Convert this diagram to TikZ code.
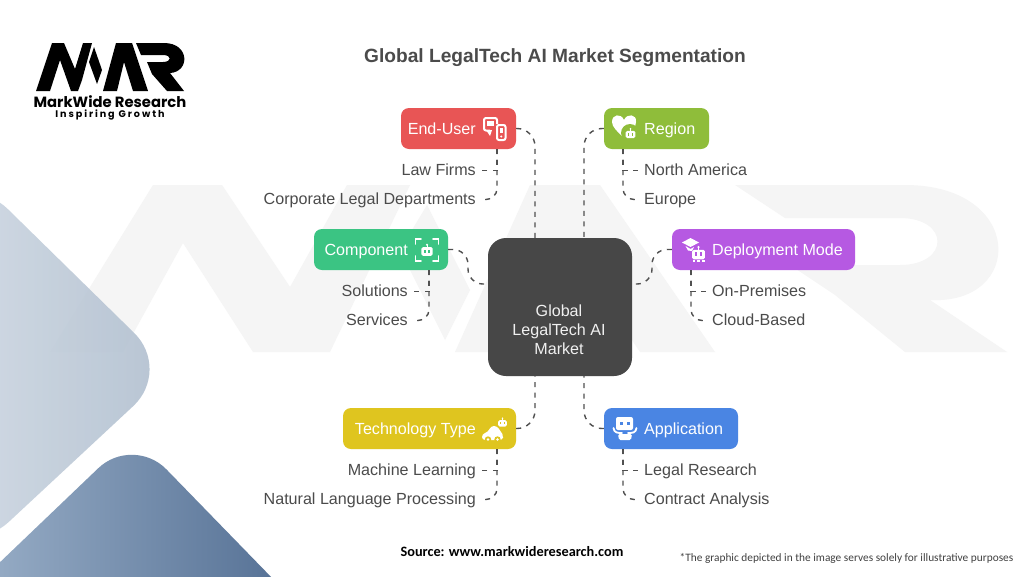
\documentclass[tikz,border=0pt]{standalone}
\usepackage{fontspec}
\setmainfont{Liberation Sans}
\newfontfamily\popfont{Poppins}
\newfontfamily\calfont{Carlito}
\usetikzlibrary{calc}
\definecolor{tx}{HTML}{4B4B4B}
\definecolor{cdark}{HTML}{474747}
\definecolor{cred}{HTML}{E85555}
\definecolor{cgreen}{HTML}{8FBD3A}
\definecolor{cmint}{HTML}{3BC483}
\definecolor{cpurple}{HTML}{B659E2}
\definecolor{cyellow}{HTML}{DFC51F}
\definecolor{cblue}{HTML}{4A85E3}
\definecolor{wm}{HTML}{F5F5F5}
\definecolor{conncol}{HTML}{505050}
\definecolor{shapeA}{HTML}{E6ECF2}
\definecolor{shapeB}{HTML}{ADBCCD}
\definecolor{shapeC}{HTML}{9EB3CB}
\definecolor{shapeD}{HTML}{506C91}
\tikzset{
  catbox/.style={draw=none,rounded corners=8pt,minimum height=41pt,inner sep=0pt},
  cattext/.style={font=\fontsize{16.1}{18}\selectfont,text=white,inner sep=0pt},
  sublabel/.style={font=\fontsize{16.1}{18}\selectfont,text=tx,inner sep=0pt},
  conn/.style={draw=conncol,line width=1.4pt,dash pattern=on 5pt off 5.5pt},
  branch/.style={conn,rounded corners=11pt},
  main/.style={conn,rounded corners=18pt},
}
\newcommand\mwrlogo{%
  (36,91)--(52,43)--(64,43)--(75,69)--(83,43)--(92,43)--(82,80)--(78,91)--(71,91)--(60,60)--(50,91)--cycle
  (94,47)--(102,70)--(97,84)--(89,62)--cycle
  (103,91)--(116,43)--(132,43)--(148,91)--(133,91)--(124,62)--(117,91)--cycle
  (136,43)--(164,43) .. controls (190,43) and (190,72) .. (170,73)--(184,91)--(167,91)--(152,74)--(147,62)--(163,62)
  .. controls (172,62) and (172,55) .. (163,55)--(141,55)--cycle
}
\newcommand\rhead[4]{%
  \begin{scope}[shift={(#1,#2)},scale=#3]
    \draw[white,line width=#3*1pt] (0,-4)--(0,-6.5);
    \fill[white] (0,-6.5) circle (1.2);
    \fill[white,rounded corners=1.5pt] (-6,-4) rectangle (6,5);
    \fill[#4] (-3.5,-1.5) rectangle (-1.5,2);
    \fill[#4] (1.5,-1.5) rectangle (3.5,2);
  \end{scope}}
\begin{document}
\begin{tikzpicture}[x=1pt,y=-1pt]
\useasboundingbox (0,0) rectangle (1024,576);
\clip (0,0) rectangle (1024,576);
\fill[white] (0,0) rectangle (1024,576);
% watermark
\fill[wm] (50,352)--(153,185)--(222,185)--(290,287)--(347,185)--(410,185)--(330,352)--(253,352)--(183,243)--(123,352)--cycle;
\fill[wm] (427,205)--(470,290)--(445,340)--(400,250)--cycle;
\fill[wm] (455,352)--(530,185)--(600,185)--(715,352)--(640,352)--(565,240)--(525,352)--cycle;
\fill[wm,even odd rule] (735,185)--(905,185) .. controls (1025,185) and (1025,305) .. (930,300)--(1007,352)--(905,352)--(835,295)--(790,265)--(900,265) .. controls (950,265) and (950,218) .. (900,218)--(785,218)--cycle;
% corner shapes
\shade[left color=shapeA,right color=shapeB,rounded corners=53pt,opacity=.88] (172,370)--(-30,558)--(-230,370)--(-30,172)--cycle;
\shade[left color=shapeC,right color=shapeD,rounded corners=48pt] (133,435)--(310,617)--(133,800)--(-50,610)--cycle;
% logo
\fill[black,even odd rule] \mwrlogo;
\node[inner sep=0pt] (logoname) at (110,101.5) {\popfont\bfseries\fontsize{14.8}{16}\selectfont MarkWide Research};
\node[inner sep=0pt] (logotag) at (110,115) {\popfont\bfseries\addfontfeature{LetterSpace=20}\fontsize{9.6}{10}\selectfont Inspiring Growth};
\node[font=\bfseries\fontsize{19.15}{22}\selectfont,text=tx,inner sep=0pt] (title) at (555,58) {Global LegalTech AI Market Segmentation};
% centre
\node[fill=cdark,rounded corners=18pt,minimum width=144pt,minimum height=138pt,inner sep=0pt] (center) at (560,307) {};
\node[font=\fontsize{16.1}{19}\selectfont,text=white!94!black,align=center,inner sep=0pt] (centerlabel) at (559,330) {Global\\LegalTech AI\\Market};
% category boxes
\node[catbox,fill=cred,minimum width=115pt] (eu) at (458.5,128.5) {};
\node[catbox,fill=cgreen,minimum width=105pt] (reg) at (656.5,128.5) {};
\node[catbox,fill=cmint,minimum width=134pt] (comp) at (381,249.5) {};
\node[catbox,fill=cpurple,minimum width=183pt] (dep) at (763.5,249.5) {};
\node[catbox,fill=cyellow,minimum width=173pt] (tech) at (429.5,428.5) {};
\node[catbox,fill=cblue,minimum width=134pt] (app) at (671,428.5) {};
\node[cattext,anchor=mid east] (eut) at (476,131.5) {End-User};
\node[cattext,anchor=mid west] (regt) at (644,131.5) {Region};
\node[cattext,anchor=mid east] (compt) at (408,252.5) {Component};
\node[cattext,anchor=mid west] (dept) at (712,252.5) {Deployment Mode};
\node[cattext,anchor=mid east] (techt) at (476,431.5) {Technology Type};
\node[cattext,anchor=mid west] (appt) at (644,431.5) {Application};
% sub labels
\node[sublabel,anchor=mid east] (lf) at (476,172.5) {Law Firms};
\node[sublabel,anchor=mid east] (cl) at (476,201.5) {Corporate Legal Departments};
\node[sublabel,anchor=mid west] (na) at (644,172.5) {North America};
\node[sublabel,anchor=mid west] (euro) at (644,201.5) {Europe};
\node[sublabel,anchor=mid east] (sol) at (408,293.5) {Solutions};
\node[sublabel,anchor=mid east] (ser) at (408,322.5) {Services};
\node[sublabel,anchor=mid west] (onp) at (712,293.5) {On-Premises};
\node[sublabel,anchor=mid west] (clo) at (712,322.5) {Cloud-Based};
\node[sublabel,anchor=mid east] (ml) at (476,472.5) {Machine Learning};
\node[sublabel,anchor=mid east] (nlp) at (476,501.5) {Natural Language Processing};
\node[sublabel,anchor=mid west] (lr) at (644,472.5) {Legal Research};
\node[sublabel,anchor=mid west] (ca) at (644,501.5) {Contract Analysis};
% main connectors
\draw[main] (eu.east) -| ([xshift=-25pt]center.north);
\draw[main] (reg.west) -| ([xshift=24pt]center.north);
\draw[main] (tech.east) -| ([xshift=-25pt]center.south);
\draw[main] (app.west) -| ([xshift=24pt]center.south);
\coordinate (cl1) at ([yshift=23pt]center.west);
\coordinate (cr1) at ([yshift=23pt]center.east);
\draw[conn,rounded corners=15pt] (comp.east) -- (468,249.5) -- (468,284) -- (cl1);
\draw[conn,rounded corners=15pt] (dep.west) -- (652,249.5) -- (652,284) -- (cr1);
% branches
\coordinate (eub) at (497,149);
\coordinate (regb) at (623,149);
\coordinate (compb) at (429,270);
\coordinate (depb) at (691,270);
\coordinate (techb) at (497,449);
\coordinate (appb) at (623,449);
\draw[conn] (eub) |- ([xshift=6pt,yshift=2pt]lf.mid east);
\draw[branch] (eub) |- ([xshift=6pt,yshift=2pt]cl.mid east);
\draw[conn] (regb) |- ([xshift=-6pt,yshift=2pt]na.mid west);
\draw[branch] (regb) |- ([xshift=-6pt,yshift=2pt]euro.mid west);
\draw[conn] (compb) |- ([xshift=6pt,yshift=2pt]sol.mid east);
\draw[branch] (compb) |- ([xshift=6pt,yshift=2pt]ser.mid east);
\draw[conn] (depb) |- ([xshift=-6pt,yshift=2pt]onp.mid west);
\draw[branch] (depb) |- ([xshift=-6pt,yshift=2pt]clo.mid west);
\draw[conn] (techb) |- ([xshift=6pt,yshift=2pt]ml.mid east);
\draw[branch] (techb) |- ([xshift=6pt,yshift=2pt]nlp.mid east);
\draw[conn] (appb) |- ([xshift=-6pt,yshift=2pt]lr.mid west);
\draw[branch] (appb) |- ([xshift=-6pt,yshift=2pt]ca.mid west);
% icon: end-user
\draw[white,line width=2pt,rounded corners=2pt] (490,130.5)--(484,130.5)--(484,118)--(497,118)--(497,124);
\fill[white] (486,130)--(492,130)--(490,136)--cycle;
\fill[white] (487,121) rectangle (494,126);
\draw[white,line width=2pt,rounded corners=2pt] (497,125) rectangle (505.5,140);
\fill[white] (499.5,128) rectangle (503,133);
\fill[white] (501.2,136.5) circle (1.2);
% icon: region
\fill[white] (625,139) .. controls (617,131) and (612,127) .. (612,122)
  .. controls (612,114) and (621,113) .. (624,120)
  .. controls (627,113) and (637,114) .. (636,122)
  .. controls (636,127) and (632,131) .. (625,139) -- cycle;
\fill[cgreen] (630,133) circle (9);
\rhead{630.5}{134}{.8}{cgreen}
% icon: component
\draw[white,line width=1.8pt,line cap=round] (415.5,244)--(415.5,239)--(421,239);
\draw[white,line width=1.8pt,line cap=round] (433,239)--(438.5,239)--(438.5,244);
\draw[white,line width=1.8pt,line cap=round] (415.5,256)--(415.5,261)--(421,261);
\draw[white,line width=1.8pt,line cap=round] (433,261)--(438.5,261)--(438.5,256);
\rhead{427}{251}{.95}{cmint}
% icon: deployment
\fill[white] (682,242.5)--(690.5,238)--(699,242.5)--(690.5,247)--cycle;
\fill[white] (685.5,246)--(690.5,249)--(694,247)--(692,251)--(688,250.5)--cycle;
\rhead{698.5}{254}{1.05}{cpurple}
\fill[white] (692.5,259.5) rectangle (695,261.5);
\fill[white] (697,259.5) rectangle (700,261.5);
\fill[white] (702,259.5) rectangle (704.5,261.5);
% icon: technology
\fill[white,rounded corners=3pt] (482,440)--(482,434)--(488,432)--(491,426)--(497,426)--(501,432)--(503,435)--(503,440)--cycle;
\fill[cyellow] (488,439.5) circle (3.2);
\fill[cyellow] (497.5,439.5) circle (3.2);
\fill[white] (488,439.5) circle (1.4);
\fill[white] (497.5,439.5) circle (1.4);
\rhead{502.5}{423}{.72}{cyellow}
% icon: application
\fill[white,rounded corners=2pt] (616,417) rectangle (633,430);
\fill[cblue] (619.5,421.5) rectangle (623,425);
\fill[cblue] (626.5,421.5) rectangle (630,425);
\draw[white,line width=1.8pt,line cap=round] (613.5,428) .. controls (614,433) and (618,433) .. (622,433);
\draw[white,line width=1.8pt,line cap=round] (636.5,428) .. controls (636,433) and (632,433) .. (628,433);
\fill[white,rounded corners=1.5pt] (618,434)--(632,434)--(631,440)--(619,440)--cycle;
% footer
\node[inner sep=0pt,font=\calfont\bfseries\fontsize{14.3}{16}\selectfont,text=black] (src) at (512,552) {Source: www.markwideresearch.com};
\node[inner sep=0pt,font=\calfont\fontsize{11.35}{13}\selectfont,text=black!75] (note) at (846.5,558) {*The graphic depicted in the image serves solely for illustrative purposes};
\end{tikzpicture}
\end{document}
